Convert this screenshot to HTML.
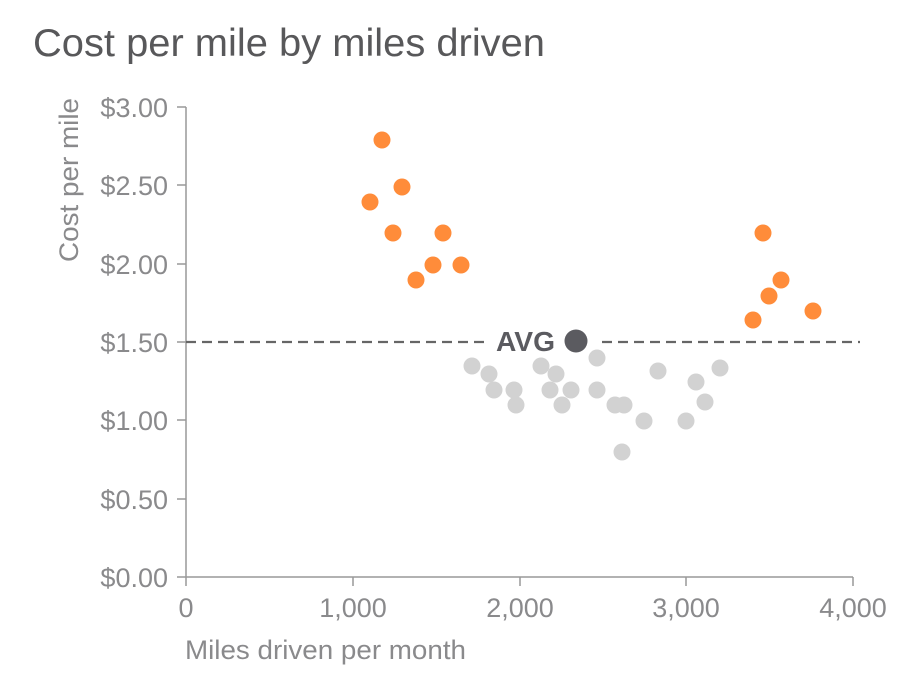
<!DOCTYPE html>
<html><head><meta charset="utf-8"><style>
html,body{margin:0;padding:0;background:#fff;}
svg{display:block;font-family:"Liberation Sans",sans-serif;}
</style></head><body>
<svg width="912" height="678" viewBox="0 0 912 678">
<text x="33" y="56" font-size="39" fill="#58585a" textLength="512" lengthAdjust="spacingAndGlyphs">Cost per mile by miles driven</text>
<g stroke="#999" stroke-width="1.5">
<line x1="186" y1="107" x2="186" y2="577"/>
<line x1="186" y1="577" x2="853" y2="577"/>
<line x1="177" y1="107" x2="186" y2="107"/>
<line x1="177" y1="185" x2="186" y2="185"/>
<line x1="177" y1="264" x2="186" y2="264"/>
<line x1="177" y1="342" x2="186" y2="342"/>
<line x1="177" y1="420" x2="186" y2="420"/>
<line x1="177" y1="499" x2="186" y2="499"/>
<line x1="177" y1="577" x2="186" y2="577"/>
<line x1="186" y1="577" x2="186" y2="586"/>
<line x1="353" y1="577" x2="353" y2="586"/>
<line x1="520" y1="577" x2="520" y2="586"/>
<line x1="686" y1="577" x2="686" y2="586"/>
<line x1="853" y1="577" x2="853" y2="586"/>
</g>
<g font-size="27" fill="#8a8a8c" text-anchor="end">
<text x="168" y="117">$3.00</text>
<text x="168" y="195">$2.50</text>
<text x="168" y="274">$2.00</text>
<text x="168" y="352">$1.50</text>
<text x="168" y="430">$1.00</text>
<text x="168" y="509">$0.50</text>
<text x="168" y="587">$0.00</text>
</g>
<g font-size="27" fill="#8a8a8c" text-anchor="middle">
<text x="186" y="617">0</text>
<text x="353" y="617">1,000</text>
<text x="520" y="617">2,000</text>
<text x="686" y="617">3,000</text>
<text x="853" y="617">4,000</text>
</g>
<text x="185" y="659" font-size="27" fill="#8a8a8c" textLength="281" lengthAdjust="spacingAndGlyphs">Miles driven per month</text>
<text transform="translate(78,262) rotate(-90)" font-size="27" fill="#8a8a8c" textLength="164" lengthAdjust="spacingAndGlyphs">Cost per mile</text>
<line x1="186" y1="342" x2="860" y2="342" stroke="#666" stroke-width="2.2" stroke-dasharray="10,6"/>
<rect x="489" y="324" width="108" height="34" fill="#fff"/>
<g fill="#d2d2d2">
<circle cx="472" cy="366" r="8.5"/><circle cx="489" cy="374" r="8.5"/><circle cx="494" cy="390" r="8.5"/><circle cx="514" cy="390" r="8.5"/><circle cx="516" cy="405" r="8.5"/><circle cx="541" cy="366" r="8.5"/><circle cx="550" cy="390" r="8.5"/><circle cx="556" cy="374" r="8.5"/><circle cx="562" cy="405" r="8.5"/><circle cx="571" cy="390" r="8.5"/><circle cx="597" cy="358" r="8.5"/><circle cx="597" cy="390" r="8.5"/><circle cx="615" cy="405" r="8.5"/><circle cx="624" cy="405" r="8.5"/><circle cx="622" cy="452" r="8.5"/><circle cx="644" cy="421" r="8.5"/><circle cx="658" cy="371" r="8.5"/><circle cx="686" cy="421" r="8.5"/><circle cx="696" cy="382" r="8.5"/><circle cx="705" cy="402" r="8.5"/><circle cx="720" cy="368" r="8.5"/>
</g>
<g fill="#ff8c3a">
<circle cx="370" cy="202" r="8.5"/><circle cx="382" cy="140" r="8.5"/><circle cx="393" cy="233" r="8.5"/><circle cx="402" cy="187" r="8.5"/><circle cx="416" cy="280" r="8.5"/><circle cx="433" cy="265" r="8.5"/><circle cx="443" cy="233" r="8.5"/><circle cx="461" cy="265" r="8.5"/><circle cx="753" cy="320" r="8.5"/><circle cx="763" cy="233" r="8.5"/><circle cx="769" cy="296" r="8.5"/><circle cx="781" cy="280" r="8.5"/><circle cx="813" cy="311" r="8.5"/>
</g>
<circle cx="576" cy="341" r="11.5" fill="#5b5b60"/>
<text x="555" y="351" font-size="28" font-weight="bold" fill="#5b5b60" text-anchor="end" textLength="59" lengthAdjust="spacingAndGlyphs">AVG</text>
</svg>
</body></html>
